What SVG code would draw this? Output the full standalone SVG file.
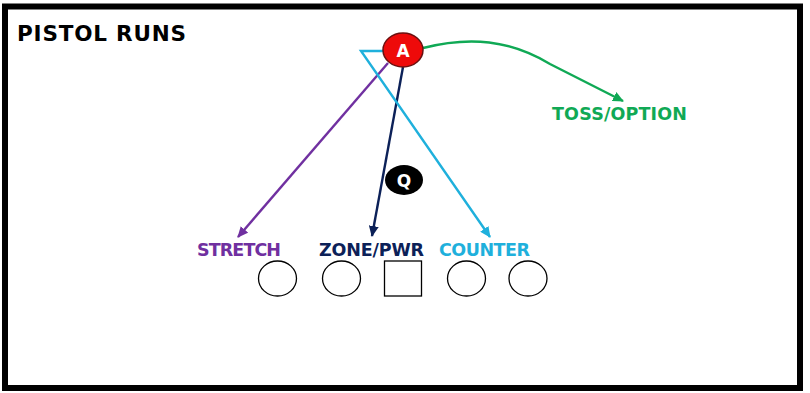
<svg xmlns="http://www.w3.org/2000/svg" width="810" height="393" viewBox="0 0 810 393">
<style>
.lbl{font-family:"DejaVu Sans",Verdana,sans-serif;font-weight:bold;font-size:17.5px}
.ol{fill:#fff;stroke:#000;stroke-width:1.3}
.route{fill:none;stroke-width:2.4}
</style>
<defs>
<marker id="mP" markerUnits="userSpaceOnUse" markerWidth="12" markerHeight="10" refX="10" refY="5" orient="auto"><path d="M0,0 L11,5 L0,10 Z" fill="#7030a0"/></marker>
<marker id="mN" markerUnits="userSpaceOnUse" markerWidth="12" markerHeight="10" refX="10" refY="5" orient="auto"><path d="M0,0 L11,5 L0,10 Z" fill="#0c2158"/></marker>
<marker id="mC" markerUnits="userSpaceOnUse" markerWidth="12" markerHeight="10" refX="10" refY="5" orient="auto"><path d="M0,0 L11,5 L0,10 Z" fill="#1fb0dc"/></marker>
<marker id="mG" markerUnits="userSpaceOnUse" markerWidth="12" markerHeight="10" refX="10" refY="5" orient="auto"><path d="M0,0 L11,5 L0,10 Z" fill="#10a955"/></marker>
</defs>
<rect width="810" height="393" fill="#fff"/>
<rect x="5" y="6.5" width="795" height="381.5" fill="none" stroke="#000" stroke-width="6"/>
<text class="lbl" x="17" y="41" style="font-size:21.5px" fill="#000" textLength="169">PISTOL RUNS</text>
<g id="connectors">
<path class="route" stroke="#7030a0" d="M388,63 L238,237" marker-end="url(#mP)"/>
<path class="route" stroke="#0c2158" d="M403,67 L372,236" marker-end="url(#mN)"/>
<path class="route" stroke="#1fb0dc" d="M384,51 L361,51 L490,237" marker-end="url(#mC)"/>
<path class="route" stroke="#10a955" d="M423,48 C470,36 510,40 550,64 L623,101" marker-end="url(#mG)"/>
</g>
<g id="node-A">
<ellipse cx="403" cy="50" rx="20" ry="17" fill="#ee0a0a" stroke="#6a1010" stroke-width="1.5"/>
<text class="lbl" x="403" y="56.5" text-anchor="middle" fill="#fff" style="font-size:17px">A</text>
</g>
<g id="node-Q">
<ellipse cx="404" cy="180" rx="19" ry="15" fill="#000"/>
<text class="lbl" x="404" y="186.5" text-anchor="middle" fill="#fff" style="font-size:17px">Q</text>
</g>
<g id="ol1"><ellipse class="ol" cx="277.5" cy="278.5" rx="19" ry="17.5"/></g>
<g id="ol2"><ellipse class="ol" cx="341.5" cy="278.5" rx="19" ry="17.5"/></g>
<g id="center"><rect class="ol" x="384.5" y="261" width="37" height="35"/></g>
<g id="ol4"><ellipse class="ol" cx="466.5" cy="278.5" rx="19" ry="17.5"/></g>
<g id="ol5"><ellipse class="ol" cx="528" cy="278.5" rx="19" ry="17.5"/></g>
<g id="label-stretch"><text class="lbl" x="197" y="256" fill="#7030a0" textLength="84">STRETCH</text></g>
<g id="label-zone"><text class="lbl" x="319" y="256" fill="#0c2158" textLength="105">ZONE/PWR</text></g>
<g id="label-counter"><text class="lbl" x="439" y="256" fill="#1fb0dc" textLength="91">COUNTER</text></g>
<g id="label-toss"><text class="lbl" x="552" y="120" fill="#10a955" textLength="135">TOSS/OPTION</text></g>
</svg>
